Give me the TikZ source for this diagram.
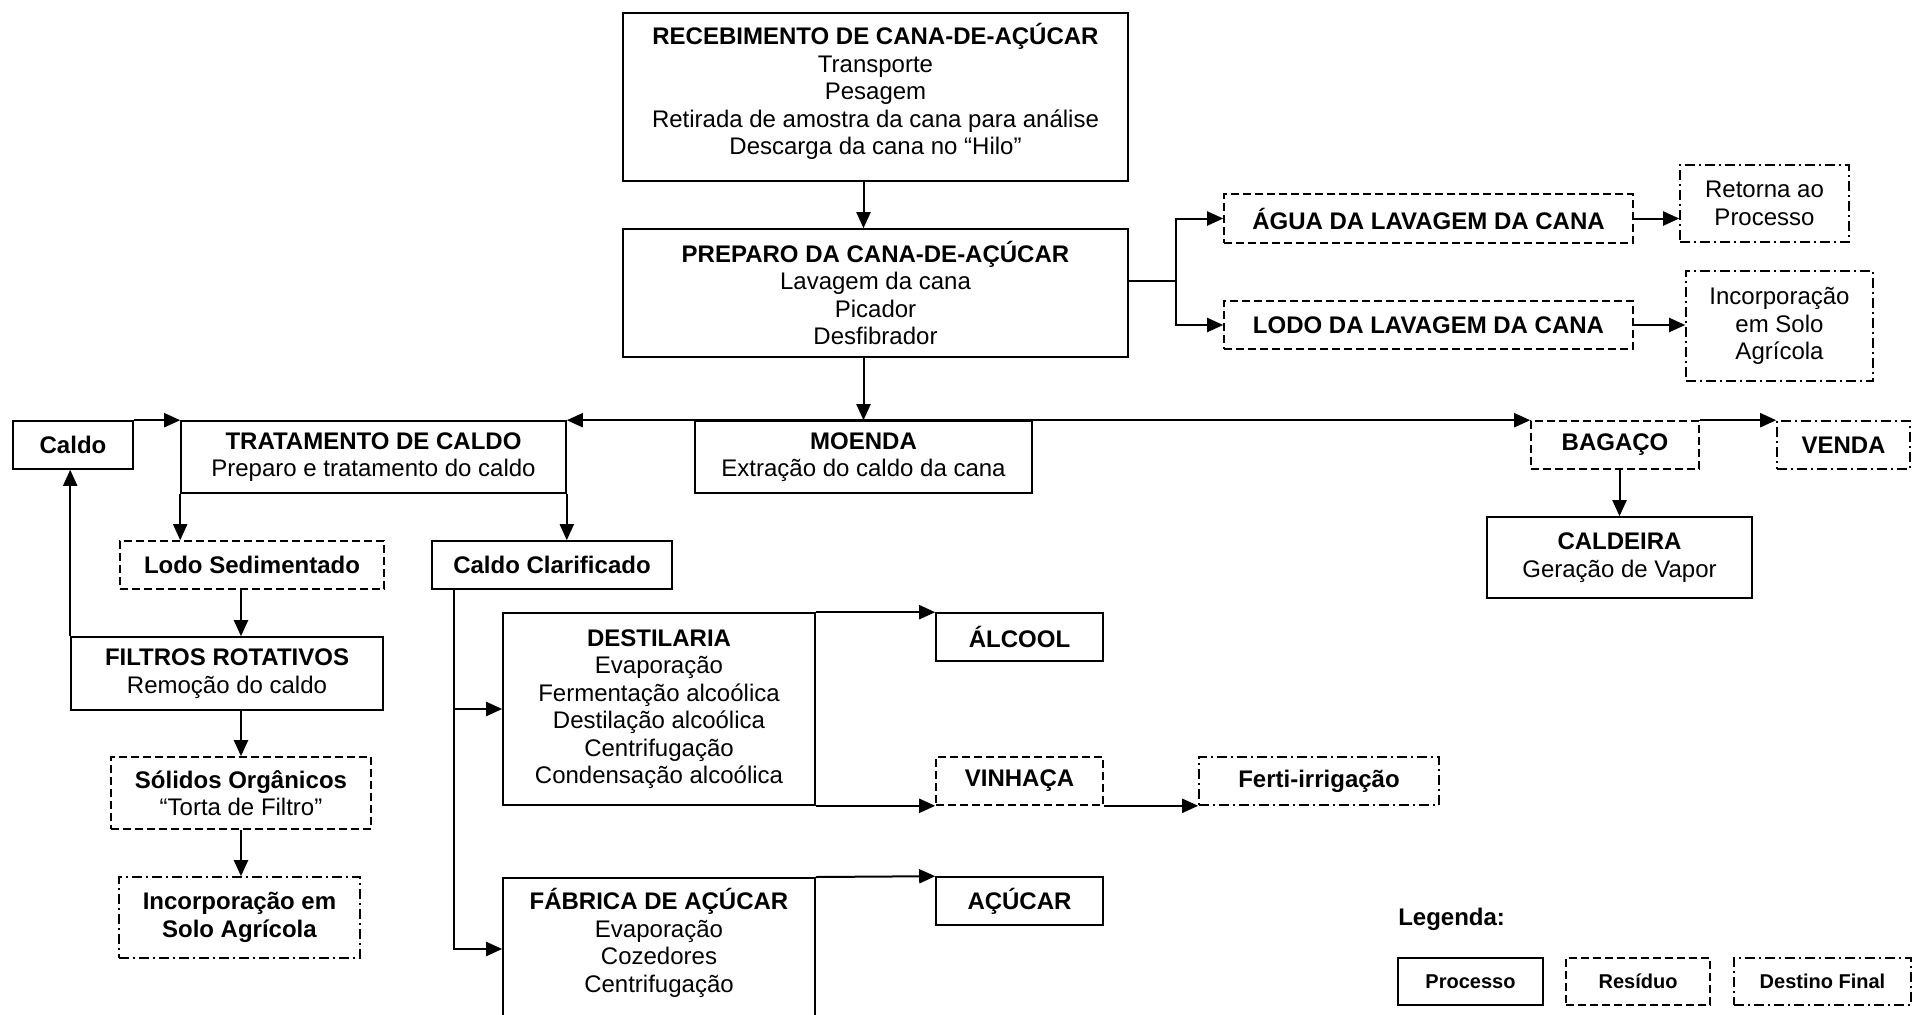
\documentclass[tikz,border=0pt]{standalone}
\usepackage{fontspec}
\setmainfont{Liberation Sans}
\usetikzlibrary{arrows.meta,calc}
\newcommand{\pxu}{*0.75pt}
\begin{document}
\begin{tikzpicture}[x=0.75pt,y=-0.75pt,
  box/.style={draw, line width=1.2pt, align=center, inner sep=0pt, font=\fontsize{18}{20.6}\selectfont},
  proc/.style={box},
  resid/.style={box, dash pattern=on 6pt off 3pt},
  dest/.style={box, dash pattern=on 7.5pt off 3pt on 1.5pt off 3pt},
  arr/.style={line width=1.5pt, -{Triangle[length=12pt,width=10.5pt]}},
  ln/.style={line width=1.5pt},
  sz/.style 2 args={minimum width=#1\pxu, minimum height=#2\pxu},
]
\useasboundingbox (0,0) rectangle (1913,1014);

% top
\node[proc, sz={505}{168}] (receb) at (875.5,97) {\textbf{RECEBIMENTO DE CANA-DE-AÇÚCAR}\\Transporte\\Pesagem\\Retirada de amostra da cana para análise\\Descarga da cana no “Hilo”\\[-8.5pt]};
\node[proc, sz={505}{128}] (prep) at (875.5,293) {\textbf{PREPARO DA CANA-DE-AÇÚCAR}\\Lavagem da cana\\Picador\\Desfibrador};
\node[resid, sz={409}{49}] (agua) at (1428.5,218.5) {\textbf{ÁGUA DA LAVAGEM DA CANA}};
\node[resid, sz={409}{48}] (lodo) at (1428.5,325) {\textbf{LODO DA LAVAGEM DA CANA}};
\node[dest, sz={169}{77}] (ret) at (1764.5,203.5) {Retorna ao\\Processo};
\node[dest, sz={187}{110}] (incR) at (1779.5,326) {Incorporação\\em Solo\\Agrícola};

% middle row
\node[proc, sz={120}{48}] (caldo) at (73,445) {\textbf{Caldo}};
\node[proc, sz={385}{72}] (trat) at (373.5,457) {\textbf{TRATAMENTO DE CALDO}\\Preparo e tratamento do caldo};
\node[proc, sz={337}{72}] (moenda) at (863.5,457) {\textbf{MOENDA}\\Extração do caldo da cana};
\node[resid, sz={168}{48}] (bag) at (1615,445) {\textbf{BAGAÇO}};
\node[dest, sz={133}{48}] (venda) at (1843.5,445) {\textbf{VENDA}};
\node[proc, sz={265}{81}] (cald) at (1619.5,557.5) {\textbf{CALDEIRA}\\Geração de Vapor};

% left column
\node[resid, sz={264}{48}] (lodosed) at (252,565) {\textbf{Lodo Sedimentado}};
\node[proc, sz={240}{48}] (clar) at (552,565) {\textbf{Caldo Clarificado}};
\node[proc, sz={312}{73}] (filt) at (227,673.5) {\textbf{FILTROS ROTATIVOS}\\Remoção do caldo};
\node[resid, sz={260}{72}] (sol) at (241,793) {\textbf{Sólidos Orgânicos}\\“Torta de Filtro”};
\node[dest, sz={241}{81}] (incL) at (239.5,917.5) {\textbf{Incorporação em}\\\textbf{Solo Agrícola}};

% destilaria / fabrica
\node[proc, sz={312}{192}] (dest) at (659,709) {\textbf{DESTILARIA}\\Evaporação\\Fermentação alcoólica\\Destilação alcoólica\\Centrifugação\\Condensação alcoólica};
\node[proc, sz={167}{48}] (alc) at (1019.5,637) {\textbf{ÁLCOOL}};
\node[resid, sz={167}{48}] (vin) at (1019.5,781) {\textbf{VINHAÇA}};
\node[dest, sz={240}{48}] (fert) at (1319,781) {\textbf{Ferti-irrigação}};
\node[proc, sz={312}{140}, anchor=north] (fab) at (659,877) {};
\node[align=center, inner sep=0pt, font=\fontsize{18}{20.6}\selectfont] (fabtxt) at (659,943) {\textbf{FÁBRICA DE AÇÚCAR}\\Evaporação\\Cozedores\\Centrifugação};
\node[proc, sz={167}{48}] (acu) at (1019.5,901) {\textbf{AÇÚCAR}};

% legend
\node[anchor=west, inner sep=0pt, font=\fontsize{18}{21}\selectfont\bfseries] (leg) at (1398,919) {Legenda:};
\node[proc, sz={145}{47}, font=\fontsize{15}{18}\selectfont\bfseries] (lp) at (1470.5,981.5) {Processo};
\node[resid, sz={144}{47}, font=\fontsize{15}{18}\selectfont\bfseries] (lr) at (1638,981.5) {Resíduo};
\node[dest, sz={177}{47}, font=\fontsize{15}{18}\selectfont\bfseries] (ld) at (1822.5,981.5) {Destino Final};

% connectors
\draw[arr] (moenda.north |- receb.south) -- (moenda.north |- prep.north);
\coordinate (pb) at (1176,281);
\draw[ln] (prep.east |- pb) -- (pb);
\draw[arr] (pb) |- (agua.west);
\draw[arr] (pb) |- (lodo.west);
\draw[arr] (agua.east) -- (agua.east -| ret.west);
\draw[arr] (lodo.east) -- (lodo.east -| incR.west);

\coordinate (mj) at (moenda.north);
\draw[arr] (moenda.north |- prep.south) -- (mj);
\draw[arr] (mj) -- (trat.north east);
\draw[arr] (mj) -- (bag.north west);
\draw[arr] (bag.north east) -- (venda.north west);
\draw[arr] (cald.north |- bag.south) -- (cald.north);

\draw[arr] (caldo.north east) -- (trat.north west);
\draw[arr] (trat.south west) -- (trat.south west |- lodosed.north);
\draw[arr] (trat.south east) -- (trat.south east |- clar.north);
\draw[arr] (sol.north |- lodosed.south) -- (sol.north |- filt.north);
\draw[arr] (sol.north |- filt.south) -- (sol.north);
\draw[arr] (sol.south) -- (sol.south |- incL.north);
\draw[arr] (filt.north west) -- (filt.north west |- caldo.south);

\coordinate (cv) at ($(clar.south west)+(23,0)$);
\draw[arr] (cv) |- ($(fab.north west)+(0,72)$);
\draw[arr] (cv |- dest.west) -- (dest.west);
\draw[arr] (dest.north east) -- (alc.north west);
\draw[arr] (dest.south east) -- (vin.south west);
\draw[arr] (vin.south east) -- (fert.south west);
\draw[arr] (fab.north east) -- (acu.north west);
\end{tikzpicture}
\end{document}
